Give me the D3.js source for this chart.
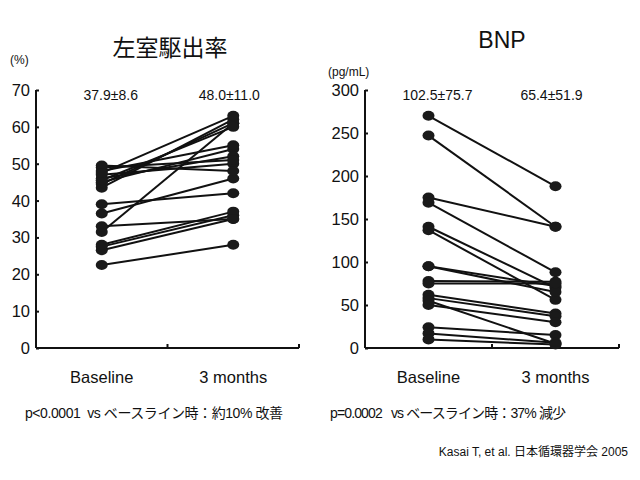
<!DOCTYPE html>
<meta charset="utf-8">
<style>
body{ margin:0; background:#fff; }
text{ font-family: "Liberation Sans", Arial, "Noto Sans CJK JP", sans-serif; fill:#111; }
.jp{ font-family: "Liberation Sans", "Noto Sans CJK JP", sans-serif; }
</style>
<body>
<svg id="chart" width="640" height="480"></svg>
<script src="https://cdnjs.cloudflare.com/ajax/libs/d3/7.8.5/d3.min.js"></script>
<script>
// two paired before/after plots
var groups = ["Baseline", "3 months"];

var efBase  = [22.5, 26.5, 27.5, 28, 31.5, 33, 36.5, 39, 43.5, 44.5, 45, 46, 47, 48, 49, 49.5, 45.5, 47.5];
var ef3m    = [28, 35, 36, 37, 61, 35, 46, 42, 62, 61, 54, 52, 50, 55, 51, 48, 60, 63];
var efTicks = [0, 10, 20, 30, 40, 50, 60, 70];
var efMeans = ["37.9±8.6", "48.0±11.0"];

var bnpBase  = [270, 247, 175, 169, 141, 137, 95, 95, 78, 75, 62, 58, 55, 50, 24, 17, 10];
var bnp3m    = [188, 141, 141, 88, 70, 56, 72, 65, 77, 75, 40, 37, 5, 30, 15, 6, 4];
var bnpTicks = [0, 50, 100, 150, 200, 250, 300];
var bnpMeans = ["102.5±75.7", "65.4±51.9"];

var svg = d3.select("#chart");

function panel(o){
	var g = svg.append("g");
	var x = d3.scaleBand().domain(groups).range([o.left, o.right]);
	var y = d3.scaleLinear().domain([0, o.max]).range([348, 90]);

	// y axis, ticks pointing inside
	var ya = g.append("g").attr("transform", "translate(" + o.left + ",0)")
		.call(d3.axisRight(y).tickValues(o.ticks).tickSize(3).tickFormat(""));
	ya.select(".domain").attr("d", "M0," + y(o.max) + "V" + y(0)).attr("stroke", "#111").attr("stroke-width", 2);
	ya.selectAll(".tick line").attr("stroke", "#111").attr("stroke-width", 2);

	g.selectAll(".ylab").data(o.ticks).enter().append("text")
		.attr("x", o.left - 6).attr("y", function(d){ return y(d) + 6; })
		.attr("text-anchor", "end").style("font-size", "16.5px")
		.text(function(d){ return d; });

	// x axis with ticks at category edges
	var xa = g.append("g").attr("transform", "translate(0," + y(0) + ")")
		.call(d3.axisTop(x).tickSize(0).tickFormat(""));
	xa.select(".domain").attr("d", "M" + o.left + ",0H" + o.right).attr("stroke", "#111").attr("stroke-width", 2);
	g.selectAll(".xt").data(groups).enter().append("line")
		.attr("x1", function(d){ return x(d) + x.bandwidth(); })
		.attr("x2", function(d){ return x(d) + x.bandwidth(); })
		.attr("y1", y(0)).attr("y2", y(0) - 4)
		.attr("stroke", "#111").attr("stroke-width", 2);

	g.selectAll(".xlab").data(groups).enter().append("text")
		.attr("x", function(d){ return x(d) + x.bandwidth() / 2; })
		.attr("y", 383).attr("text-anchor", "middle").style("font-size", "16.5px")
		.text(function(d){ return d; });

	g.selectAll(".mean").data(o.means).enter().append("text")
		.attr("x", function(d, i){ return x(groups[i]) + x.bandwidth() / 2 + (i == 0 ? 9 : -4); })
		.attr("y", 100).attr("text-anchor", "middle").style("font-size", "14px")
		.text(function(d){ return d; });

	var pairs = o.base.map(function(d, i){ return [d, o.after[i]]; });
	var cx = function(i){ return x(groups[i]) + x.bandwidth() / 2; };

	g.selectAll(".pair").data(pairs).enter().append("line")
		.attr("x1", cx(0)).attr("x2", cx(1))
		.attr("y1", function(d){ return y(d[0]); })
		.attr("y2", function(d){ return y(d[1]); })
		.attr("stroke", "#111").attr("stroke-width", 2);

	[o.base, o.after].forEach(function(vals, k){
		g.selectAll(".dot" + k).data(vals).enter().append("ellipse")
			.attr("cx", cx(k)).attr("cy", function(d){ return y(d); })
			.attr("rx", 6).attr("ry", 5).attr("fill", "#1a1a1a");
	});

	g.append("text").attr("class", "jp").attr("x", o.titleX).attr("y", o.titleY)
		.attr("text-anchor", "middle").style("font-size", "23px").text(o.title);
	g.append("text").attr("x", o.unitX).attr("y", o.unitY)
		.style("font-size", "12px").text(o.unit);
	g.append("text").attr("class", "jp").attr("x", o.noteX).attr("y", 418)
		.style("font-size", "14px").attr("xml:space", "preserve")
		.attr("textLength", o.noteW).attr("lengthAdjust", "spacing")
		.text(o.note);
}

panel({left: 36, right: 299, max: 70, ticks: efTicks, base: efBase, after: ef3m, means: efMeans,
	title: "左室駆出率", titleX: 170, titleY: 56, unit: "(%)", unitX: 10, unitY: 64,
	note: "p<0.0001  vs ベースライン時：約10% 改善", noteX: 25, noteW: 258});
panel({left: 365, right: 619, max: 300, ticks: bnpTicks, base: bnpBase, after: bnp3m, means: bnpMeans,
	title: "BNP", titleX: 502, titleY: 48, unit: "(pg/mL)", unitX: 328, unitY: 76,
	note: "p=0.0002   vs ベースライン時：37% 減少", noteX: 330, noteW: 236});

svg.append("text").attr("class", "jp").attr("x", 628).attr("y", 456)
	.attr("text-anchor", "end").style("font-size", "12px")
	.text("Kasai T, et al. 日本循環器学会 2005");
</script>
</body>
